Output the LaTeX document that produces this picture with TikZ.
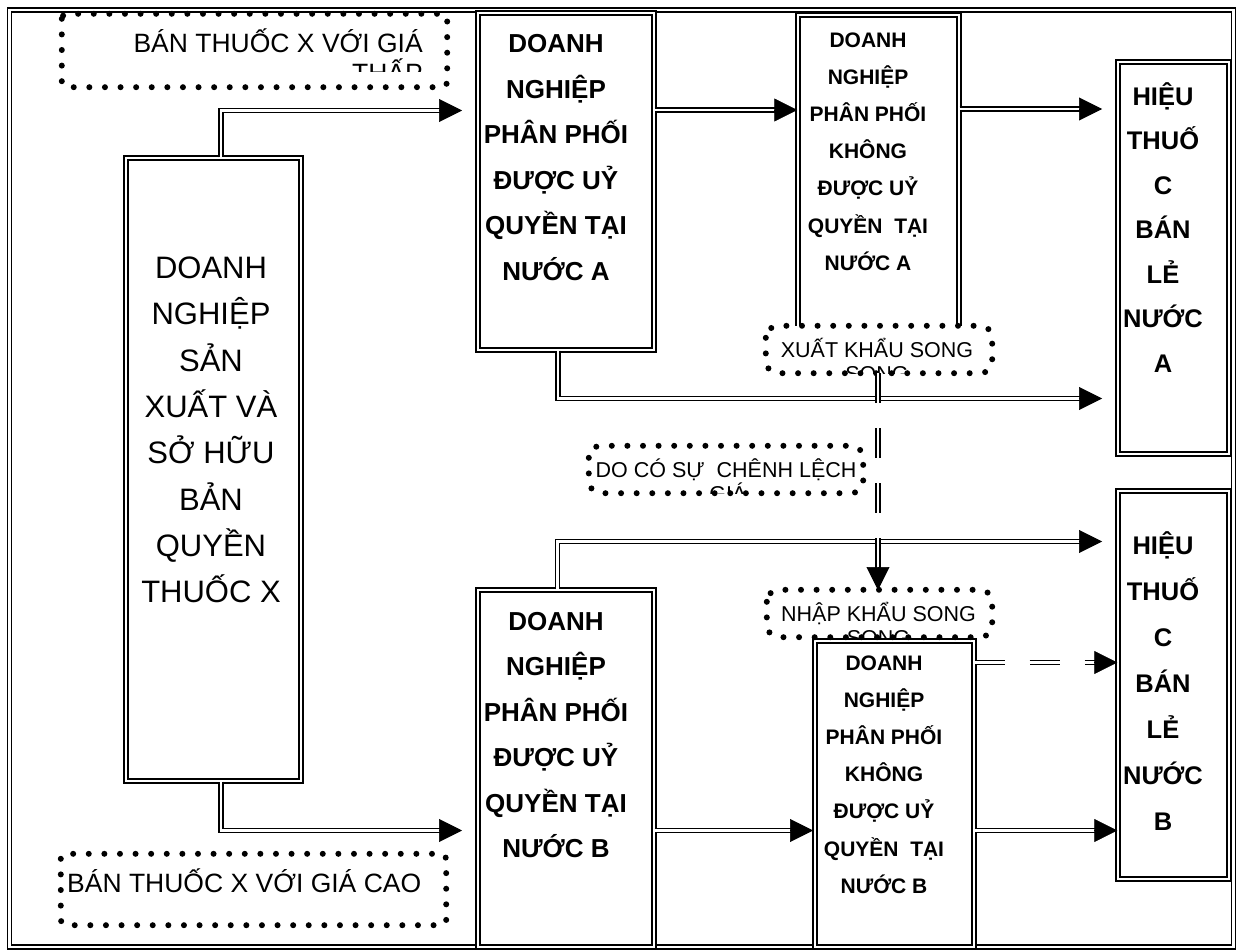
\documentclass[tikz,border=0pt]{standalone}
\usepackage{fontspec}
\setmainfont{Liberation Sans}
\usetikzlibrary{arrows.meta,calc}
\begin{document}
\begin{tikzpicture}[x=1pt,y=-1pt,
  dblbox/.style={draw, double, line width=1.4pt, double distance=2.8pt, inner sep=0pt, fill=white},
  dbl/.style={double, line width=1.4pt, double distance=2.8pt, shorten >=21pt},
  dashdbl/.style={dbl, dash pattern=on 30pt off 25pt},
  head/.style={-{Triangle[length=23pt,width=23pt]}, line width=0.6pt},
  dots/.style={line width=6pt, line cap=round, dash pattern=on 0pt off 15.6pt},
  dotfill/.style={fill=white, draw=none, inner sep=0pt},
  bigtxt/.style={font=\fontsize{31}{46.3}\selectfont, align=center, inner sep=0pt},
  disttxt/.style={font=\bfseries\fontsize{26}{45.5}\selectfont, align=center, inner sep=0pt},
  nontxt/.style={font=\bfseries\fontsize{21}{37.2}\selectfont, align=center, inner sep=0pt},
  shoptxt/.style={font=\bfseries\fontsize{25.5}{44.5}\selectfont, align=center, inner sep=0pt},
  shopbtxt/.style={font=\bfseries\fontsize{25.5}{46}\selectfont, align=center, inner sep=0pt},
  lbl/.style={font=\fontsize{26.5}{31}\selectfont, inner sep=0pt},
  sml/.style={font=\fontsize{21.5}{24}\selectfont, inner sep=0pt},
]
\useasboundingbox (0,0) rectangle (1240,952);
\fill[white] (0,0) rectangle (1240,952);

% frame
\node[dblbox, fill=none, minimum width=1224pt, minimum height=937pt] (frame) at (621.5,478.5) {};

% boxes
\node[dblbox, minimum width=175pt, minimum height=623pt] (prod) at (213.5,469.5) {};
\node[dblbox, minimum width=176pt, minimum height=337pt] (distA) at (566,181.5) {};
\node[dblbox, minimum width=161pt, minimum height=330pt] (nonA) at (878.5,180) {};
\node[dblbox, minimum width=111pt, minimum height=392pt] (shopA) at (1173.5,258) {};
\node[dblbox, minimum width=176pt, minimum height=357pt] (distB) at (566,768.5) {};
\node[dblbox, minimum width=159pt, minimum height=306pt] (nonB) at (894.5,794) {};
\node[dblbox, minimum width=111pt, minimum height=388pt] (shopB) at (1173.5,685) {};

% box texts
\node[bigtxt] (prodT) at (211,430) {DOANH\\NGHIỆP\\SẢN\\XUẤT VÀ\\SỞ HỮU\\BẢN\\QUYỀN\\THUỐC X};
\node[disttxt] (distAT) at (556,157.5) {DOANH\\NGHIỆP\\PHÂN PHỐI\\ĐƯỢC UỶ\\QUYỀN TẠI\\NƯỚC A};
\node[nontxt] (nonAT) at (868,151.5) {DOANH\\NGHIỆP\\PHÂN PHỐI\\KHÔNG\\ĐƯỢC UỶ\\QUYỀN\ \ TẠI\\NƯỚC A};
\node[shoptxt] (shopAT) at (1163,227.5) {HIỆU\\THUỐ\\C\\BÁN\\LẺ\\NƯỚC\\A};
\node[disttxt] (distBT) at (556,735) {DOANH\\NGHIỆP\\PHÂN PHỐI\\ĐƯỢC UỶ\\QUYỀN TẠI\\NƯỚC B};
\node[nontxt] (nonBT) at (884,774.5) {DOANH\\NGHIỆP\\PHÂN PHỐI\\KHÔNG\\ĐƯỢC UỶ\\QUYỀN\ \ TẠI\\NƯỚC B};
\node[shopbtxt] (shopBT) at (1163,681) {HIỆU\\THUỐ\\C\\BÁN\\LẺ\\NƯỚC\\B};

% dotted boxes
\node[dotfill, minimum width=385pt, minimum height=73pt] (tl) at (254.5,50.5) {};
\begin{scope}
  \clip (62,14) rectangle (447,72);
  \node[lbl, anchor=base east] (tlT1) at (423,53) {BÁN THUỐC X VỚI GIÁ};
  \node[lbl, anchor=base east] (tlT2) at (423,83) {THẤP};
\end{scope}
\draw[dots, rounded corners=5pt] (tl.north west) rectangle (tl.south east);

\node[dotfill, minimum width=385pt, minimum height=71pt] (bl) at (253.5,889.5) {};
\node[lbl, anchor=base west] (blT) at (67,892) {BÁN THUỐC X VỚI GIÁ CAO};
\draw[dots, rounded corners=5pt] (bl.north west) rectangle (bl.south east);

\node[dotfill, rounded corners=12pt, minimum width=226pt, minimum height=47pt] (xk) at (879,349.5) {};
\begin{scope}
  \clip (766,326) rectangle (992,373);
  \node[sml, anchor=base] (xkT1) at (877,357) {XUẤT KHẨU SONG};
  \node[sml, anchor=base] (xkT2) at (877,381) {SONG};
\end{scope}
\draw[dots, rounded corners=12pt] (xk.north west) rectangle (xk.south east);

\node[dotfill, rounded corners=12pt, minimum width=274pt, minimum height=47pt] (dc) at (726,469.5) {};
\begin{scope}
  \clip (589,446) rectangle (863,493);
  \node[sml, anchor=base] (dcT1) at (726,477) {DO CÓ SỰ\ \ CHÊNH LỆCH};
  \node[sml, anchor=base] (dcT2) at (728,501) {GIÁ};
\end{scope}
\draw[dots, rounded corners=12pt] (dc.north west) rectangle (dc.south east);

\node[dotfill, rounded corners=12pt, minimum width=225pt, minimum height=47pt] (nk) at (879.5,613.5) {};
\begin{scope}
  \clip (767,590) rectangle (992,637);
  \node[sml, anchor=base] (nkT1) at (878.5,621) {NHẬP KHẨU SONG};
  \node[sml, anchor=base] (nkT2) at (878.5,645) {SONG};
\end{scope}
\draw[dots, rounded corners=12pt] (nk.north west) rectangle (nk.south east);

% connector coordinates
\coordinate (a1e) at (462,110.5);
\coordinate (a2e) at (nonA.west |- 0,110);
\coordinate (a3e) at (1102,109);
\coordinate (a4e) at (1102,398.5);
\coordinate (a5e) at (878,590);
\coordinate (a6e) at (1102,541.5);
\coordinate (a7e) at (462,830.5);
\coordinate (a8e) at (813,830.5);
\coordinate (a9e) at (shopB.west |- 0,830.5);
\coordinate (a10e) at (shopB.west |- 0,662.5);

% connectors
\draw[dbl] (prod.north -| 221,0) |- (a1e);
\draw[head] ($(a1e)+(-1,0)$) -- (a1e);
\draw[dbl] (distA.east |- 0,110) -- (a2e);
\draw[head] ($(a2e)+(-1,0)$) -- (a2e);
\draw[dbl] (nonA.east |- 0,109) -- (a3e);
\draw[head] ($(a3e)+(-1,0)$) -- (a3e);
\draw[dbl] (distA.south -| 558,0) |- (a4e);
\draw[head] ($(a4e)+(-1,0)$) -- (a4e);
\draw[dbl] (distB.north -| 557.5,0) |- (a6e);
\draw[head] ($(a6e)+(-1,0)$) -- (a6e);
\draw[dashdbl] (xk.south -| 878,0) -- (a5e);
\draw[head] ($(a5e)+(0,-1)$) -- (a5e);
\draw[dbl] (prod.south -| 221,0) |- (a7e);
\draw[head] ($(a7e)+(-1,0)$) -- (a7e);
\draw[dbl] (distB.east |- 0,830.5) -- (a8e);
\draw[head] ($(a8e)+(-1,0)$) -- (a8e);
\draw[dbl] (nonB.east |- 0,830.5) -- (a9e);
\draw[head] ($(a9e)+(-1,0)$) -- (a9e);
\draw[dashdbl] (nonB.east |- 0,662.5) -- (a10e);
\draw[head] ($(a10e)+(-1,0)$) -- (a10e);
\end{tikzpicture}
\end{document}
